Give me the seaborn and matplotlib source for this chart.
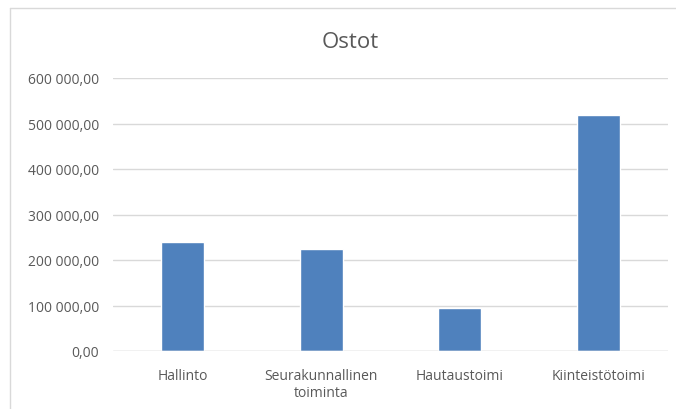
import matplotlib
matplotlib.use('Agg')
import matplotlib.pyplot as plt
import matplotlib.ticker as mticker
import seaborn as sns
import pandas as pd

# data
categories = ['Hallinto', 'Seurakunnallinen\ntoiminta', 'Hautaustoimi', 'Kiinteistötoimi']
values = [239000, 223500, 94500, 518500]
title = 'Ostot'

df = pd.DataFrame({'kategoria': categories, 'ostot': values})

sns.set_theme(style='white')
plt.rcParams['font.family'] = ['Open Sans', 'DejaVu Sans']

fig = plt.figure(figsize=(6.76, 4.10), dpi=100)
ax = fig.add_axes([113 / 676, 1 - 352 / 410, 555 / 676, 273 / 410])

sns.barplot(data=df, x='kategoria', y='ostot', color='#4F81BD',
            width=0.31, saturation=1, ax=ax)

ax.set_ylim(0, 600000)
ax.set_yticks(range(0, 600001, 100000))
ax.yaxis.set_major_formatter(mticker.FuncFormatter(
    lambda v, p: f'{v:,.2f}'.replace(',', ' ').replace('.', ',')))
ax.grid(axis='y', color='#D9D9D9', linewidth=1)
ax.set_axisbelow(True)
ax.set_xlabel('')
ax.set_ylabel('')
for s in ax.spines.values():
    s.set_visible(False)
ax.axhline(0, color='#D9D9D9', linewidth=1)
ax.tick_params(axis='both', length=0, labelsize=10, labelcolor='#595959')
ax.tick_params(axis='y', pad=10)
ax.tick_params(axis='x', pad=12)
for lbl in ax.get_xticklabels():
    lbl.set_multialignment('center')

fig.text(350 / 676, 1 - 42 / 410, title, ha='center', va='center',
         fontsize=16, color='#595959')

# chart area border (left and top visible in the reference)
fig.add_artist(plt.Line2D([10 / 676, 10 / 676], [0, 1 - 9 / 410],
                          transform=fig.transFigure, color='#D9D9D9', lw=1))
fig.add_artist(plt.Line2D([10 / 676, 1], [1 - 9 / 410, 1 - 9 / 410],
                          transform=fig.transFigure, color='#D9D9D9', lw=1))

fig.savefig('out.png', dpi=100)
